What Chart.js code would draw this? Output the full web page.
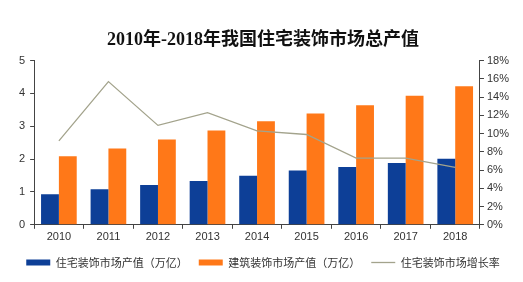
<!DOCTYPE html>
<html>
<head>
<meta charset="utf-8">
<script src="https://cdn.jsdelivr.net/npm/chart.js@4/dist/chart.umd.min.js"></script>
<style>
  html, body { margin: 0; padding: 0; background: #fff; }
  #wrap { width: 523px; height: 282px; }
</style>
</head>
<body>
<div id="wrap"><canvas id="chart"></canvas></div>
<script>
var years = ["2010", "2011", "2012", "2013", "2014", "2015", "2016", "2017", "2018"];
var residential = [0.93, 1.08, 1.21, 1.33, 1.49, 1.65, 1.76, 1.88, 2.01];
var building = [2.09, 2.32, 2.60, 2.87, 3.15, 3.39, 3.64, 3.93, 4.22];
var growth = [9.2, 15.7, 10.9, 12.3, 10.3, 9.9, 7.3, 7.3, 6.3];

var tickFont = { family: "Liberation Sans, Arial, sans-serif", size: 11 };
var lineColor = '#A3A38C';

var chart = new Chart(document.getElementById('chart'), {
    type: 'bar',
    data: {
        labels: years,
        datasets: [
            {
                label: '住宅装饰市场产值（万亿）',
                data: residential,
                backgroundColor: '#0D3F97',
                yAxisID: 'y',
                order: 2,
                barPercentage: 1,
                categoryPercentage: 0.72
            },
            {
                label: '建筑装饰市场产值（万亿）',
                data: building,
                backgroundColor: '#FF7818',
                yAxisID: 'y',
                order: 2,
                barPercentage: 1,
                categoryPercentage: 0.72
            },
            {
                type: 'line',
                label: '住宅装饰市场增长率',
                data: growth,
                borderColor: lineColor,
                backgroundColor: lineColor,
                borderWidth: 1.3,
                pointRadius: 0,
                tension: 0,
                yAxisID: 'y1',
                order: 1
            }
        ]
    },
    options: {
        responsive: true,
        maintainAspectRatio: false,
        animation: false,
        layout: { padding: { left: 14, right: 11, top: 30, bottom: 4 } },
        plugins: {
            title: {
                display: true,
                text: '2010年-2018年我国住宅装饰市场总产值',
                color: '#111',
                font: { family: "Liberation Serif, 'Noto Sans CJK SC', serif", size: 18, weight: 'bold' },
                padding: { top: 0, bottom: 9 }
            },
            legend: {
                position: 'bottom',
                labels: {
                    color: '#333',
                    font: { family: "'Noto Sans CJK SC', sans-serif", size: 11 },
                    usePointStyle: true,
                    pointStyleWidth: 24,
                    boxHeight: 6,
                    padding: 11,
                    sort: function(a, b) { return a.datasetIndex - b.datasetIndex; },
                    generateLabels: function(c) {
                        var items = Chart.defaults.plugins.legend.labels.generateLabels(c);
                        items.forEach(function(it) {
                            if (it.datasetIndex === 2) {
                                it.pointStyle = 'line';
                                it.lineWidth = 1.3;
                                it.strokeStyle = lineColor;
                            } else {
                                it.pointStyle = 'rect';
                                it.lineWidth = 0;
                            }
                        });
                        return items;
                    }
                }
            },
            tooltip: { enabled: false }
        },
        scales: {
            x: {
                grid: { drawOnChartArea: false, color: '#444', tickLength: 4 },
                border: { color: '#444' },
                ticks: { color: '#333', font: tickFont, padding: 2 }
            },
            y: {
                position: 'left',
                min: 0,
                max: 5,
                grid: { drawOnChartArea: false, color: '#444', tickLength: 4 },
                border: { color: '#444' },
                ticks: { stepSize: 1, color: '#333', font: tickFont, padding: 5 }
            },
            y1: {
                position: 'right',
                min: 0,
                max: 18,
                grid: { drawOnChartArea: false, color: '#444', tickLength: 4 },
                border: { color: '#444' },
                ticks: {
                    stepSize: 2,
                    color: '#333',
                    font: tickFont,
                    padding: 3,
                    callback: function(v) { return v + '%'; }
                }
            }
        }
    }
});
</script>
</body>
</html>
